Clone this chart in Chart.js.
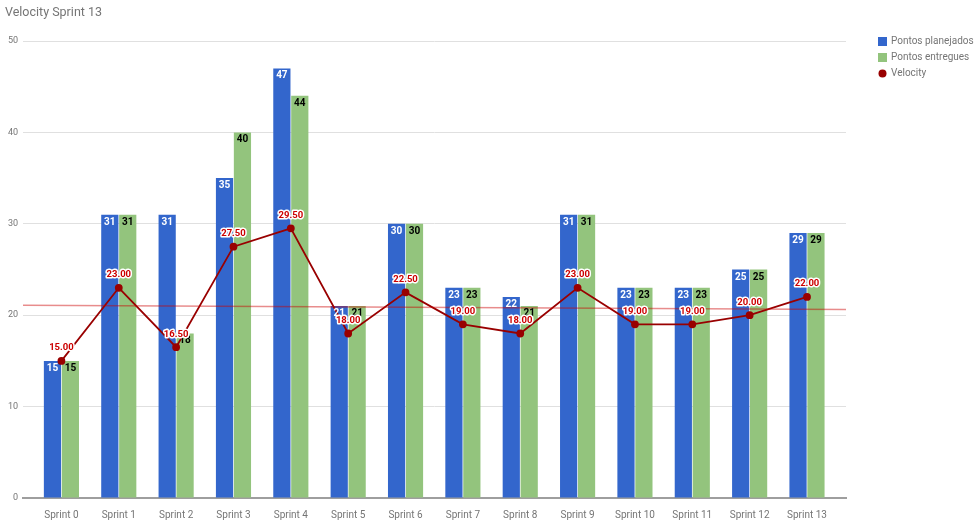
<!DOCTYPE html>
<html>
<head>
<meta charset="utf-8">
<title>Velocity Sprint 13</title>
<script src="https://cdn.jsdelivr.net/npm/chart.js@4.4.0/dist/chart.umd.min.js"></script>
<style>
  html, body { margin: 0; padding: 0; background: #fff; }
</style>
</head>
<body>
<canvas id="velocityChart" width="980" height="520"></canvas>
<script>
const sprints = ["Sprint 0", "Sprint 1", "Sprint 2", "Sprint 3", "Sprint 4", "Sprint 5", "Sprint 6",
  "Sprint 7", "Sprint 8", "Sprint 9", "Sprint 10", "Sprint 11", "Sprint 12", "Sprint 13"];
const planned = [15, 31, 31, 35, 47, 21, 30, 23, 22, 31, 23, 23, 25, 29];
const delivered = [15, 31, 18, 40, 44, 21, 30, 23, 21, 31, 23, 23, 25, 29];
const velocity = [15, 23, 16.5, 27.5, 29.5, 18, 22.5, 19, 18, 23, 19, 19, 20, 22];
const yTicks = [0, 10, 20, 30, 40, 50];

const BLUE = "#3366cc";
const GREEN = "#93c47d";
const RED = "#990000";
const GREY_TEXT = "#757575";

Chart.defaults.font.family = "Roboto, 'Noto Sans', sans-serif";

const toPoints = arr => arr.map((v, i) => ({ x: i, y: v }));

// trend line, value labels and the side legend
const extrasPlugin = {
  id: "extras",
  afterDatasetsDraw(chart) {
    const { ctx, chartArea, scales } = chart;

    // least squares trend of velocity
    const n = velocity.length;
    const mx = (n - 1) / 2;
    const my = velocity.reduce((a, b) => a + b, 0) / n;
    let sxy = 0, sxx = 0;
    velocity.forEach((v, i) => { sxy += (i - mx) * (v - my); sxx += (i - mx) ** 2; });
    const slope = sxy / sxx;
    const icpt = my - slope * mx;
    ctx.save();
    ctx.strokeStyle = "rgba(204, 0, 0, 0.45)";
    ctx.lineWidth = 1.5;
    ctx.beginPath();
    ctx.moveTo(chartArea.left, scales.y.getPixelForValue(icpt + slope * scales.x.min));
    ctx.lineTo(chartArea.right, scales.y.getPixelForValue(icpt + slope * scales.x.max));
    ctx.stroke();

    // bar labels
    ctx.font = "bold 10px Roboto";
    ctx.textAlign = "center";
    ctx.textBaseline = "middle";
    chart.data.datasets.forEach((ds, di) => {
      const meta = chart.getDatasetMeta(di);
      if (meta.type !== "bar") return;
      meta.data.forEach((bar, i) => {
        ctx.fillStyle = ds.label === "Pontos planejados" ? "#ffffff" : "#000000";
        ctx.fillText(String(ds.data[i].y), bar.x, bar.y + 7.5);
      });
    });

    // velocity labels
    const lineIdx = chart.data.datasets.findIndex(d => d.type === "line");
    const lineMeta = chart.getDatasetMeta(lineIdx);
    ctx.font = "bold 9.5px Roboto";
    ctx.lineJoin = "round";
    lineMeta.data.forEach((pt, i) => {
      const txt = velocity[i].toFixed(2);
      ctx.strokeStyle = "#ffffff";
      ctx.lineWidth = 3;
      ctx.strokeText(txt, pt.x, pt.y - 13);
      ctx.fillStyle = "#cc0000";
      ctx.fillText(txt, pt.x, pt.y - 13);
    });
    ctx.restore();
  },
  afterDraw(chart) {
    const { ctx } = chart;
    const items = [
      { label: "Pontos planejados", color: BLUE, shape: "rect" },
      { label: "Pontos entregues", color: GREEN, shape: "rect" },
      { label: "Velocity", color: RED, shape: "circle" }
    ];
    ctx.save();
    ctx.font = "10px Roboto";
    ctx.textBaseline = "middle";
    ctx.textAlign = "left";
    items.forEach((it, i) => {
      const cy = 41.5 + i * 16;
      ctx.fillStyle = it.color;
      if (it.shape === "rect") {
        ctx.fillRect(878, cy - 4.5, 9, 9);
      } else {
        ctx.beginPath();
        ctx.arc(882.5, cy, 4, 0, Math.PI * 2);
        ctx.fill();
      }
      ctx.fillStyle = GREY_TEXT;
      ctx.fillText(it.label, 891, cy);
    });
    ctx.restore();
  }
};

new Chart(document.getElementById("velocityChart").getContext("2d"), {
  type: "bar",
  data: {
    datasets: [
      {
        type: "line",
        label: "Velocity",
        data: toPoints(velocity),
        borderColor: RED,
        backgroundColor: RED,
        borderWidth: 1.8,
        pointRadius: 3,
        pointHoverRadius: 3,
        tension: 0,
        order: 0
      },
      {
        label: "Pontos planejados",
        data: toPoints(planned),
        backgroundColor: BLUE,
        categoryPercentage: 0.625,
        barPercentage: 0.96,
        order: 1
      },
      {
        label: "Pontos entregues",
        data: toPoints(delivered),
        backgroundColor: GREEN,
        categoryPercentage: 0.625,
        barPercentage: 0.96,
        order: 2
      }
    ]
  },
  options: {
    responsive: false,
    animation: false,
    layout: { padding: { left: 5, right: 134, top: 0, bottom: 0 } },
    plugins: {
      legend: { display: false },
      tooltip: { enabled: false },
      title: {
        display: true,
        text: "Velocity Sprint 13",
        align: "start",
        color: GREY_TEXT,
        font: { size: 12.5, weight: "normal" },
        padding: { top: 5, bottom: 21 }
      }
    },
    scales: {
      x: {
        type: "linear",
        min: -0.67,
        max: 13.68,
        offset: false,
        grid: { display: false, offset: false },
        border: { display: true, color: "#9e9e9e", width: 2 },
        ticks: {
          stepSize: 1,
          autoSkip: false,
          maxRotation: 0,
          includeBounds: false,
          padding: 3,
          color: GREY_TEXT,
          font: { size: 10 },
          callback: v => sprints[v]
        },
        afterFit: s => { s.height = 22; }
      },
      y: {
        min: 0,
        max: 50,
        grid: { color: "#e0e0e0", drawTicks: false },
        border: { display: false },
        ticks: { padding: 5, color: GREY_TEXT, font: { size: 9 } },
        afterBuildTicks: s => { s.ticks = yTicks.map(v => ({ value: v })); },
        afterFit: s => { s.width = 18; }
      }
    }
  },
  plugins: [extrasPlugin]
});
</script>
</body>
</html>
